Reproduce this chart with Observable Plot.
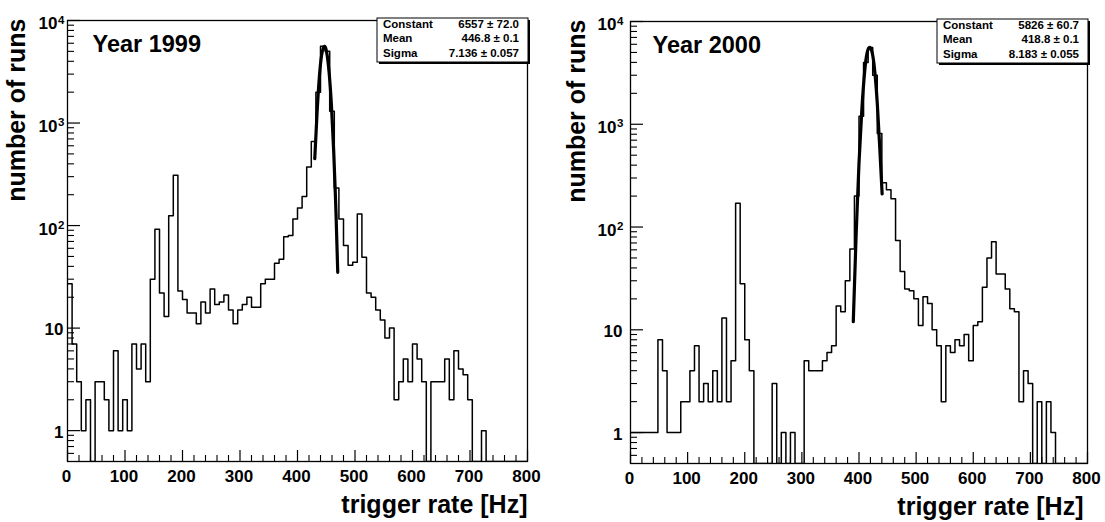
<!DOCTYPE html>
<html>
<head>
<meta charset="utf-8">
<script src="https://cdn.jsdelivr.net/npm/d3@7"></script>
<script src="https://cdn.jsdelivr.net/npm/@observablehq/plot@0.6"></script>
<style>
  html, body { margin: 0; padding: 0; background: #ffffff; }
  #row { display: flex; flex-direction: row; width: 1105px; height: 522px; }
  #row svg { flex: none; display: block; }
</style>
</head>
<body>
<div id="row"></div>
<script>
// ---------- data ----------
const binWidth = 8;            // Hz per histogram bin (100 bins over 0-800 Hz)
const counts1999 = [
  27, 7, 3, 1, 2, 0, 3, 3, 2, 1,
  6, 1, 2, 1, 7, 4, 7, 3, 30, 92,
  22, 13, 125, 310, 23, 19, 14, 14, 11, 18,
  14, 24, 17, 18, 21, 15, 11, 15, 17, 20,
  16, 16, 27, 30, 30, 43, 47, 78, 80, 116,
  148, 192, 372, 660, 2000, 5600, 5000, 1300, 232, 116,
  64, 41, 44, 130, 49, 22, 20, 15, 12, 8,
  10, 2, 3, 5, 3, 7, 5, 3, 0, 3,
  3, 3, 5, 2, 6, 4, 3.5, 2, 0, 0,
  1, 0, 0, 0, 0, 0, 0, 0, 0, 0
];
const counts2000 = [
  1, 1, 1, 1, 1, 1, 8, 4, 1, 1,
  1, 2, 2, 4, 7, 2, 3, 2, 4, 2,
  13, 2, 5, 170, 28, 8, 4, 0, 0, 0,
  0, 3, 0, 1, 0, 1, 0, 0, 5, 4,
  4, 4, 5, 6, 7, 17, 15, 30, 61, 200,
  1200, 4000, 5600, 3000, 813, 270, 230, 188, 74, 37,
  25, 24, 20, 11, 21, 18, 10, 7, 2, 7,
  6, 8, 7, 9, 5, 11, 12, 26, 50, 72,
  35, 35, 25, 16, 15, 2, 4, 3, 0, 2,
  0, 2, 1, 0, 0, 0, 0, 0, 0, 0
];
// fitted gaussian curves [Hz, runs]
const fit1999 = [[430,450],[434,1250],[438,2800],[442,4600],[446.8,5600],[451,4800],[455,3100],[459,1500],[463,520],[467,130],[470,35]];
const fit2000 = [[390,12],[395,85],[400,420],[405,1400],[410,3300],[414,4900],[418.8,5600],[424,4700],[428,3100],[432,1600],[436,640],[440.5,210]];

const xMajorTicks = [0, 100, 200, 300, 400, 500, 600, 700, 800];
const xMinorTicks = [20,40,60,80,120,140,160,180,220,240,260,280,320,340,360,380,420,440,460,480,520,540,560,580,620,640,660,680,720,740,760,780];
const yMajorTicks = [1, 10, 100, 1000, 10000];
const yTickBase = ["1", "10", "10", "10", "10"];
const yTickExp = ["", "", "2", "3", "4"];
const yMinorTicks = [0.6,0.7,0.8,0.9, 2,3,4,5,6,7,8,9, 20,30,40,50,60,70,80,90, 200,300,400,500,600,700,800,900, 2000,3000,4000,5000,6000,7000,8000,9000];

const statNames = ["Constant", "Mean", "Sigma"];
const stats1999 = ["6557 \u00b1 72.0", "446.8 \u00b1 0.1", "7.136 \u00b1 0.057"];
const stats2000 = ["5826 \u00b1 60.7", "418.8 \u00b1 0.1", "8.183 \u00b1 0.055"];
const panelTitles = ["Year 1999", "Year 2000"];
const xLabel = "trigger rate [Hz]";
const yLabel = "number of runs";

// ---------- drawing ----------
const FONT = "'Liberation Sans', Arial, Helvetica, sans-serif";
const Y_MIN = 0.5, Y_MAX = 10000;

function statsBox(values) {
  return (index, scales, channels, dims) => {
    const g = d3.create("svg:g")
      .attr("font-family", FONT)
      .attr("font-weight", "bold")
      .attr("font-size", 11.5);
    const w = 151, h = 44;
    const right = dims.width - dims.marginRight + 1;
    const left = right - w;
    const top = dims.marginTop - 2;
    g.append("rect").attr("x", left + 2).attr("y", top + 2).attr("width", w).attr("height", h).attr("fill", "black");
    g.append("rect").attr("x", left).attr("y", top).attr("width", w).attr("height", h)
      .attr("fill", "white").attr("stroke", "black").attr("stroke-width", 1);
    statNames.forEach((name, i) => {
      const yb = top + 9.8 + 14.5 * i;
      g.append("text").attr("x", left + 6).attr("y", yb).attr("text-anchor", "start").text(name);
      g.append("text").attr("x", right - 9).attr("y", yb).attr("text-anchor", "end").text(values[i]);
    });
    return g.node();
  };
}

function panel(cfg) {
  const counts = cfg.counts;
  const steps = counts.map((c, i) => ({x: i * binWidth, y: Math.max(c, Y_MIN)}));
  steps.push({x: counts.length * binWidth, y: Math.max(counts[counts.length - 1], Y_MIN)});
  const plotW = cfg.width - cfg.marginLeft - cfg.marginRight;
  const plotH = cfg.height - cfg.marginTop - cfg.marginBottom;
  const yTable = yMajorTicks.map((v, i) => ({v, base: yTickBase[i], exp: yTickExp[i]}));
  return Plot.plot({
    width: cfg.width,
    height: cfg.height,
    marginLeft: cfg.marginLeft,
    marginRight: cfg.marginRight,
    marginTop: cfg.marginTop,
    marginBottom: cfg.marginBottom,
    style: {fontFamily: FONT, fontWeight: "bold", background: "white", color: "black", overflow: "visible"},
    x: {domain: [0, 800], axis: null},
    y: {type: "log", domain: [Y_MIN, Y_MAX], axis: null},
    marks: [
      Plot.line(steps, {x: "x", y: "y", curve: "step-after", stroke: "black", strokeWidth: 1.5, clip: true}),
      Plot.line(cfg.fit, {x: d => d[0], y: d => d[1], curve: "natural", stroke: "black", strokeWidth: 3.2}),
      Plot.frame({stroke: "black", strokeWidth: 1.3}),
      Plot.tickX(xMinorTicks, {x: d => d, insetTop: plotH - 6, stroke: "black", strokeWidth: 1.1}),
      Plot.tickX(xMajorTicks, {x: d => d, insetTop: plotH - 11, stroke: "black", strokeWidth: 1.2}),
      Plot.tickY(yMinorTicks, {y: d => d, insetRight: plotW - 7, stroke: "black", strokeWidth: 1.1}),
      Plot.tickY(yMajorTicks, {y: d => d, insetRight: plotW - 13, stroke: "black", strokeWidth: 1.2}),
      Plot.text(xMajorTicks, {x: d => d, text: d => String(d), frameAnchor: "bottom", dy: 8, dx: -1,
        lineAnchor: "top", fontSize: 17, fontWeight: "bold"}),
      Plot.text(yTable.filter(d => d.exp === ""), {y: "v", text: "base", frameAnchor: "left", dx: cfg.yLabDx,
        dy: 1.5, textAnchor: "end", fontSize: 17, fontWeight: "bold"}),
      Plot.text(yTable.filter(d => d.exp !== ""), {y: "v", text: "base", frameAnchor: "left", dx: cfg.yLabDx - 6,
        dy: 3.5, textAnchor: "end", fontSize: 17, fontWeight: "bold"}),
      Plot.text(yTable.filter(d => d.exp !== ""), {y: "v", text: "exp", frameAnchor: "left", dx: cfg.yLabDx - 5.5,
        dy: -0.5, textAnchor: "start", fontSize: 11.5, fontWeight: "bold"}),
      Plot.text([cfg.title], {text: d => d, frameAnchor: "top-left", dx: cfg.titleDx, dy: 15,
        lineAnchor: "top", textAnchor: "start", fontSize: 23.5, fontWeight: "bold"}),
      Plot.text([xLabel], {text: d => d, frameAnchor: "bottom-right", dx: cfg.xTitleDx, dy: 34,
        lineAnchor: "top", textAnchor: "end", fontSize: 25, fontWeight: "bold"}),
      Plot.text([yLabel], {text: d => d, frameAnchor: "top-left", dx: cfg.yTitleDx, dy: -2,
        rotate: -90, textAnchor: "end", fontSize: 25, fontWeight: "bold"}),
      statsBox(cfg.stats)
    ]
  });
}

const row = document.getElementById("row");
row.append(panel({
  width: 552, height: 522, marginLeft: 67, marginRight: 25, marginTop: 20, marginBottom: 61,
  counts: counts1999, fit: fit1999, title: panelTitles[0], stats: stats1999,
  yLabDx: -4, titleDx: 25, xTitleDx: 0, yTitleDx: -60
}));
row.append(panel({
  width: 553, height: 522, marginLeft: 78, marginRight: 18, marginTop: 21, marginBottom: 59,
  counts: counts2000, fit: fit2000, title: panelTitles[1], stats: stats2000,
  yLabDx: -8, titleDx: 22, xTitleDx: -4, yTitleDx: -63
}));
</script>
</body>
</html>
